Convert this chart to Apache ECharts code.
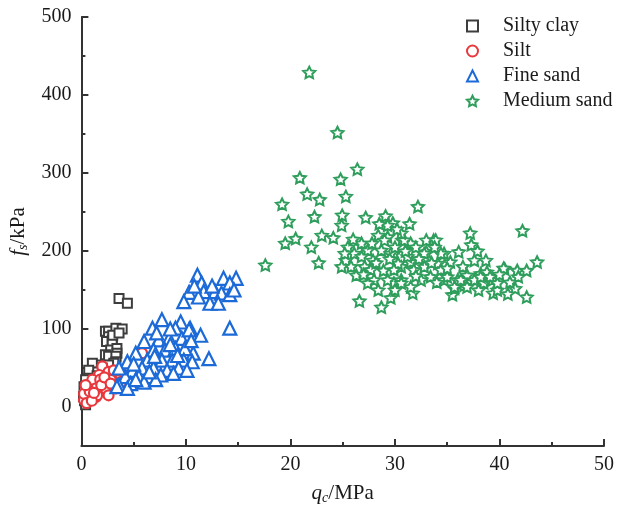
<!DOCTYPE html>
<html>
<head>
<meta charset="utf-8">
<script src="https://cdn.jsdelivr.net/npm/echarts@6/dist/echarts.min.js"></script>
<style>
  html, body { margin: 0; padding: 0; background: #fff; }
  #container { width: 618px; height: 512px; }
</style>
</head>
<body>
<div id="container"></div>
<script>
// [qc (MPa), fs (kPa)]
var siltyClay = [
  [3.6,139],[4.4,133],[2.3,97],[2.6,97],[3.3,101],[3.9,100],[2.6,90],[2.4,84],[2.95,86],
  [2.95,82],[2.8,73],[3.4,75],[3.4,69],[2.3,67],[2.6,65],[3.3,65],[3.3,58],[3.1,56],
  [2.6,54],[1.7,54],[1.05,56],[2.0,50],[1.2,45],[0.7,47],[0.7,37],[0.4,35],[0.25,26],
  [0.2,13],[0.4,3],[0.3,8],[0.5,18],[0.9,28],[1.5,40],[3.0,92],[3.6,95]
];
var silt = [
  [1.05,32],[2.0,52],[2.95,35],[0.4,13],[1.4,13],[2.3,22],[0.6,24],[0.25,9],[1.7,41],
  [2.6,45],[3.3,24],[5.8,69],[3.6,47],[1.05,35],[1.8,35],[2.8,35],[1.4,24],[2.3,24],
  [0.6,13],[1.5,15],[2.6,15],[0.25,17],[3.3,26],[3.1,47],[0.5,5],[1.0,8],[0.8,20],
  [1.9,28],[2.2,38],[1.2,18],[2.8,30],[3.8,32],[4.2,40],[0.4,28]
];
var fineSand = [
  [11.1,169],[13.6,165],[14.8,165],[14.2,159],[11.5,159],[10.3,147],[11.7,148],[12.8,148],
  [13.4,146],[14.2,144],[9.8,135],[11.2,141],[12.3,133],[13.1,133],[14.2,101],[12.2,62],
  [7.7,112],[9.5,109],[9.0,101],[6.8,101],[10.4,101],[11.4,92],[6.0,84],[7.4,86],[8.4,88],
  [9.6,88],[10.7,69],[6.9,73],[8.0,73],[9.0,75],[9.9,75],[5.2,69],[6.3,60],[7.7,60],
  [8.7,60],[9.8,60],[10.6,58],[4.4,58],[4.9,47],[5.8,50],[6.9,50],[8.2,47],[9.3,50],
  [10.1,47],[4.2,39],[5.5,39],[6.4,39],[7.6,41],[8.8,43],[3.6,28],[4.7,30],[6.0,32],
  [7.1,35],[3.6,50],[3.4,26],[4.4,24],[10.3,99],[12.5,155],[14.6,150],[10.8,155],
  [8.5,100],[7.2,95],[5.0,55],[7.0,65],[8.5,80],[10.5,85],[9.2,66],[6.5,45],[5.2,35]
];
var mediumSand = [
  [21.8,429],[24.5,352],[26.4,305],[20.9,294],[24.8,292],[21.6,273],[22.8,266],[25.3,270],
  [19.2,260],[19.8,238],[22.3,244],[24.95,246],[24.9,233],[27.2,243],[19.5,210],[20.5,216],
  [23.0,220],[24.1,217],[22.0,205],[22.7,185],[17.6,182],[26.6,136],[28.7,128],[32.2,257],
  [42.2,226],[37.2,223],[37.3,208],[29.1,245],[29.8,236],[31.4,235],[29.6,140],[31.7,146],
  [35.5,144],[39.4,146],[41.5,152],[42.6,141],[43.6,186],[36.1,199],[37.6,188],[38.7,188],
  [40.5,177],[41.7,175],[42.6,175],[41.8,167],[39.3,163],[39.8,150],[38.2,171],[36.9,169],
  [36.0,163],[35.7,152],[34.7,163],[34.1,184],[33.7,214],[33.0,214],[33.0,199],[31.5,210],
  [30.7,214],[29.3,218],[29.9,197],[30.6,180],[31.5,186],[31.8,176],[30.6,163],[31.5,154],
  [29.9,159],[32.8,180],[33.4,167],[34.4,176],[34.7,197],[35.3,186],[36.6,156],[37.6,163],
  [38.5,159],[38.8,173],[25.5,205],[26.1,197],[25.3,188],[25.8,180],[26.3,169],[26.8,210],
  [27.4,201],[27.9,188],[28.4,220],[29.0,214],[29.3,233],[28.7,201],[29.6,197],[30.3,184],
  [29.9,176],[29.3,163],[28.0,163],[27.4,159],[28.4,150],[30.6,159],[31.2,193],[30.9,214],
  [32.0,205],[32.5,163],[33.9,214],[32.8,197],[34.4,197],[35.0,167],[36.3,163],[38.2,167],
  [39.1,167],[39.8,159],[40.4,178],[36.9,154],[35.7,154],[24.9,180],[25.2,197],[26.8,193],
  [27.1,180],[27.7,176],[30.6,223],[27.0,170],[28.2,185],[28.9,175],[30.0,205],[31.0,200],
  [32.3,190],[33.5,185],[34.0,160],[35.0,178],[36.5,180],[38.0,150],[40.0,170],[41.0,160],
  [28.5,235],[30.2,228],[29.5,190],[26.0,215],[27.8,210],[33.8,205],[30.0,150],[32.0,168],
  [40.8,145],[37.9,200]
];
var seriesNames = ['Silty clay', 'Silt', 'Fine sand', 'Medium sand'];
var yTicks = [0, 100, 200, 300, 400, 500];
var yMinorTicks = [50, 150, 250, 350, 450];

var font = 'Liberation Serif';
var ink = '#1a1a1a';
var star = 'path://M50,0 L64.7,29.8 L97.6,34.5 L73.8,57.7 L79.4,90.5 L50,75 L20.6,90.5 L26.2,57.7 L2.4,34.5 L35.3,29.8 Z';

function scatter(name, data, symbol, size, colour, bw) {
  return {
    name: name,
    type: 'scatter',
    data: data,
    symbol: symbol,
    symbolSize: size,
    symbolKeepAspect: true,
    itemStyle: { color: '#fff', borderColor: colour, borderWidth: bw, opacity: 1 },
    emphasis: { disabled: true }
  };
}

var dom = document.getElementById('container');
var myChart = echarts.init(dom, null, { renderer: 'canvas' });

var option = {
  animation: false,
  grid: { left: 79, right: 14, top: 17, bottom: 66 },
  legend: {
    orient: 'vertical',
    left: 461,
    top: 11,
    itemWidth: 11,
    itemHeight: 11,
    itemGap: 5,
    data: seriesNames,
    textStyle: { fontFamily: font, fontSize: 20, color: ink, padding: [0, 0, 0, 20] }
  },
  xAxis: {
    type: 'value',
    min: 0,
    max: 50,
    interval: 10,
    name: '{i|q}{s|c}/MPa',
    nameLocation: 'middle',
    nameGap: 35,
    nameTextStyle: {
      fontFamily: font, fontSize: 21, color: ink,
      rich: {
        i: { fontFamily: font, fontSize: 21, fontStyle: 'italic', color: ink },
        s: { fontFamily: font, fontSize: 14, fontStyle: 'italic', color: ink, padding: [10, 0, 0, 0] }
      }
    },
    axisLine: { onZero: false, lineStyle: { color: '#333', width: 2 } },
    axisTick: { inside: true, length: 7, lineStyle: { color: '#333', width: 2 } },
    minorTick: { show: true, splitNumber: 2, length: 4, lineStyle: { color: '#333', width: 2 } },
    axisLabel: { fontFamily: font, fontSize: 20, color: ink, margin: 9 },
    splitLine: { show: false }
  },
  yAxis: [
    {
      type: 'value',
      min: -50,
      max: 500,
      name: '{i|f}{s|s}/kPa',
      nameLocation: 'middle',
      nameGap: 45,
      nameTextStyle: {
        fontFamily: font, fontSize: 21, color: ink,
        rich: {
          i: { fontFamily: font, fontSize: 21, fontStyle: 'italic', color: ink },
          s: { fontFamily: font, fontSize: 14, fontStyle: 'italic', color: ink, padding: [10, 0, 0, 0] }
        }
      },
      axisLine: { show: true, onZero: false, lineStyle: { color: '#333', width: 2 } },
      axisTick: { show: true, inside: true, length: 7, customValues: yTicks, lineStyle: { color: '#333', width: 2 } },
      axisLabel: { fontFamily: font, fontSize: 20, color: ink, margin: 10, customValues: yTicks },
      splitLine: { show: false }
    },
    {
      type: 'value',
      min: -50,
      max: 500,
      position: 'left',
      axisLine: { show: false, onZero: false },
      axisTick: { show: true, inside: true, length: 4, customValues: yMinorTicks, lineStyle: { color: '#333', width: 2 } },
      axisLabel: { show: false },
      splitLine: { show: false }
    }
  ],
  series: [
    scatter(seriesNames[0], siltyClay, 'rect', 9, '#3d3d3d', 2),
    scatter(seriesNames[1], silt, 'circle', 10, '#e8383d', 2.2),
    scatter(seriesNames[2], fineSand, 'triangle', 13, '#1c6ad8', 2.2),
    scatter(seriesNames[3], mediumSand, star, 12, '#2f9e5c', 2)
  ]
};

myChart.setOption(option);
window.addEventListener('resize', myChart.resize);
</script>
</body>
</html>
